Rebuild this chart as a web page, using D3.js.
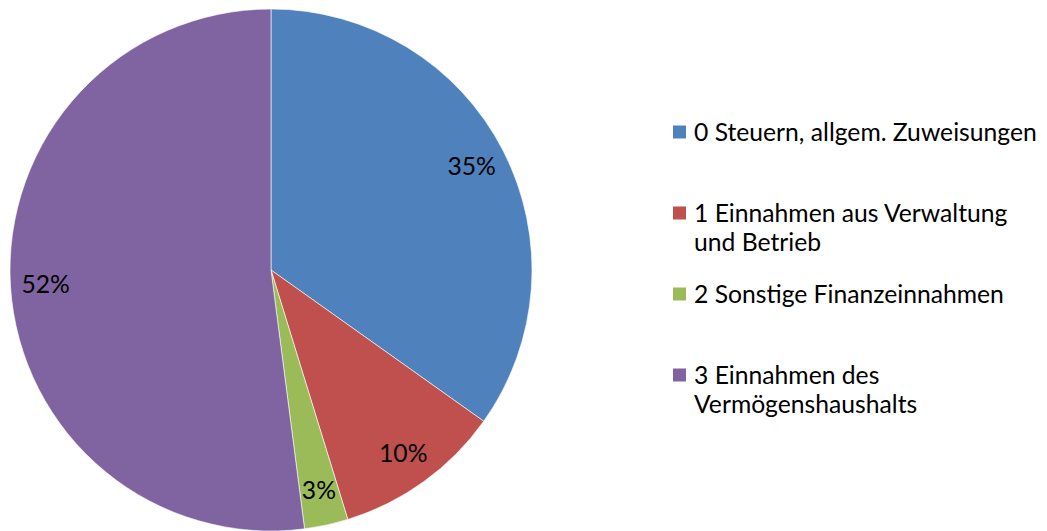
<!DOCTYPE html>
<html>
<head>
<meta charset="utf-8">
<script src="https://cdn.jsdelivr.net/npm/d3@7"></script>
<style>
  body { margin: 0; background: #fff; }
  svg { display: block; font-family: Lato, "Open Sans", sans-serif; }
</style>
</head>
<body>
<svg width="1047" height="531"></svg>
<script>
var width = 1047, height = 531;

// categories + values (share of total)
const categories = [
    "0 Steuern, allgem. Zuweisungen",
    "1 Einnahmen aus Verwaltung\nund Betrieb",
    "2 Sonstige Finanzeinnahmen",
    "3 Einnahmen des\nVermögenshaushalts"
];
const values = [34.8, 10.4, 2.7, 52.0];
const colors = ["#4F81BD", "#C0504D", "#9BBB59", "#8064A2"];

var svg = d3.select("svg");

const cx = 271, cy = 270, R = 261;
var color = d3.scaleOrdinal().domain(d3.range(values.length)).range(colors);

var pie = d3.pie().sort(null).value(function (d) { return d; });
var arc = d3.arc().innerRadius(0).outerRadius(R);
var labelArc = d3.arc().innerRadius(R * 0.865).outerRadius(R * 0.865);
var total = d3.sum(values);

var g = svg.append("g").attr("transform", "translate(" + cx + "," + cy + ")");
var arcs = pie(values);

g.selectAll("path").data(arcs).enter()
    .append("path")
    .attr("d", arc)
    .attr("fill", function (d, i) { return color(i); })
    .attr("stroke", "#fff")
    .attr("stroke-width", 0.6);

// pick a font size so the widest legend line is ~343px like the reference
var probe = svg.append("text").attr("font-size", 20).text(categories[0]);
var fs = 20 * 343 / probe.node().getComputedTextLength();
probe.remove();

g.selectAll("text.lbl").data(arcs).enter()
    .append("text")
    .attr("class", "lbl")
    .attr("transform", function (d) { return "translate(" + labelArc.centroid(d) + ")"; })
    .attr("text-anchor", "middle")
    .attr("dy", "0.35em")
    .attr("font-size", fs)
    .attr("fill", "#000")
    .text(function (d) { return Math.round(d.value / total * 100) + "%"; });

// legend
const legX = 673, legY0 = 132, legStep = 81, lineH = 29.5, sw = 13;
var leg = svg.append("g");
var items = leg.selectAll("g").data(categories).enter()
    .append("g")
    .attr("transform", function (d, i) { return "translate(" + legX + "," + (legY0 + i * legStep) + ")"; });

items.append("rect")
    .attr("x", 0).attr("y", -sw / 2)
    .attr("width", sw).attr("height", sw)
    .attr("fill", function (d, i) { return color(i); });

items.append("text")
    .attr("x", 21)
    .attr("font-size", fs)
    .attr("fill", "#000")
    .selectAll("tspan")
    .data(function (d) { return d.split("\n"); })
    .enter()
    .append("tspan")
    .attr("x", 21)
    .attr("y", function (d, i) { return i * lineH; })
    .attr("dy", "0.35em")
    .text(function (d) { return d; });
</script>
</body>
</html>
